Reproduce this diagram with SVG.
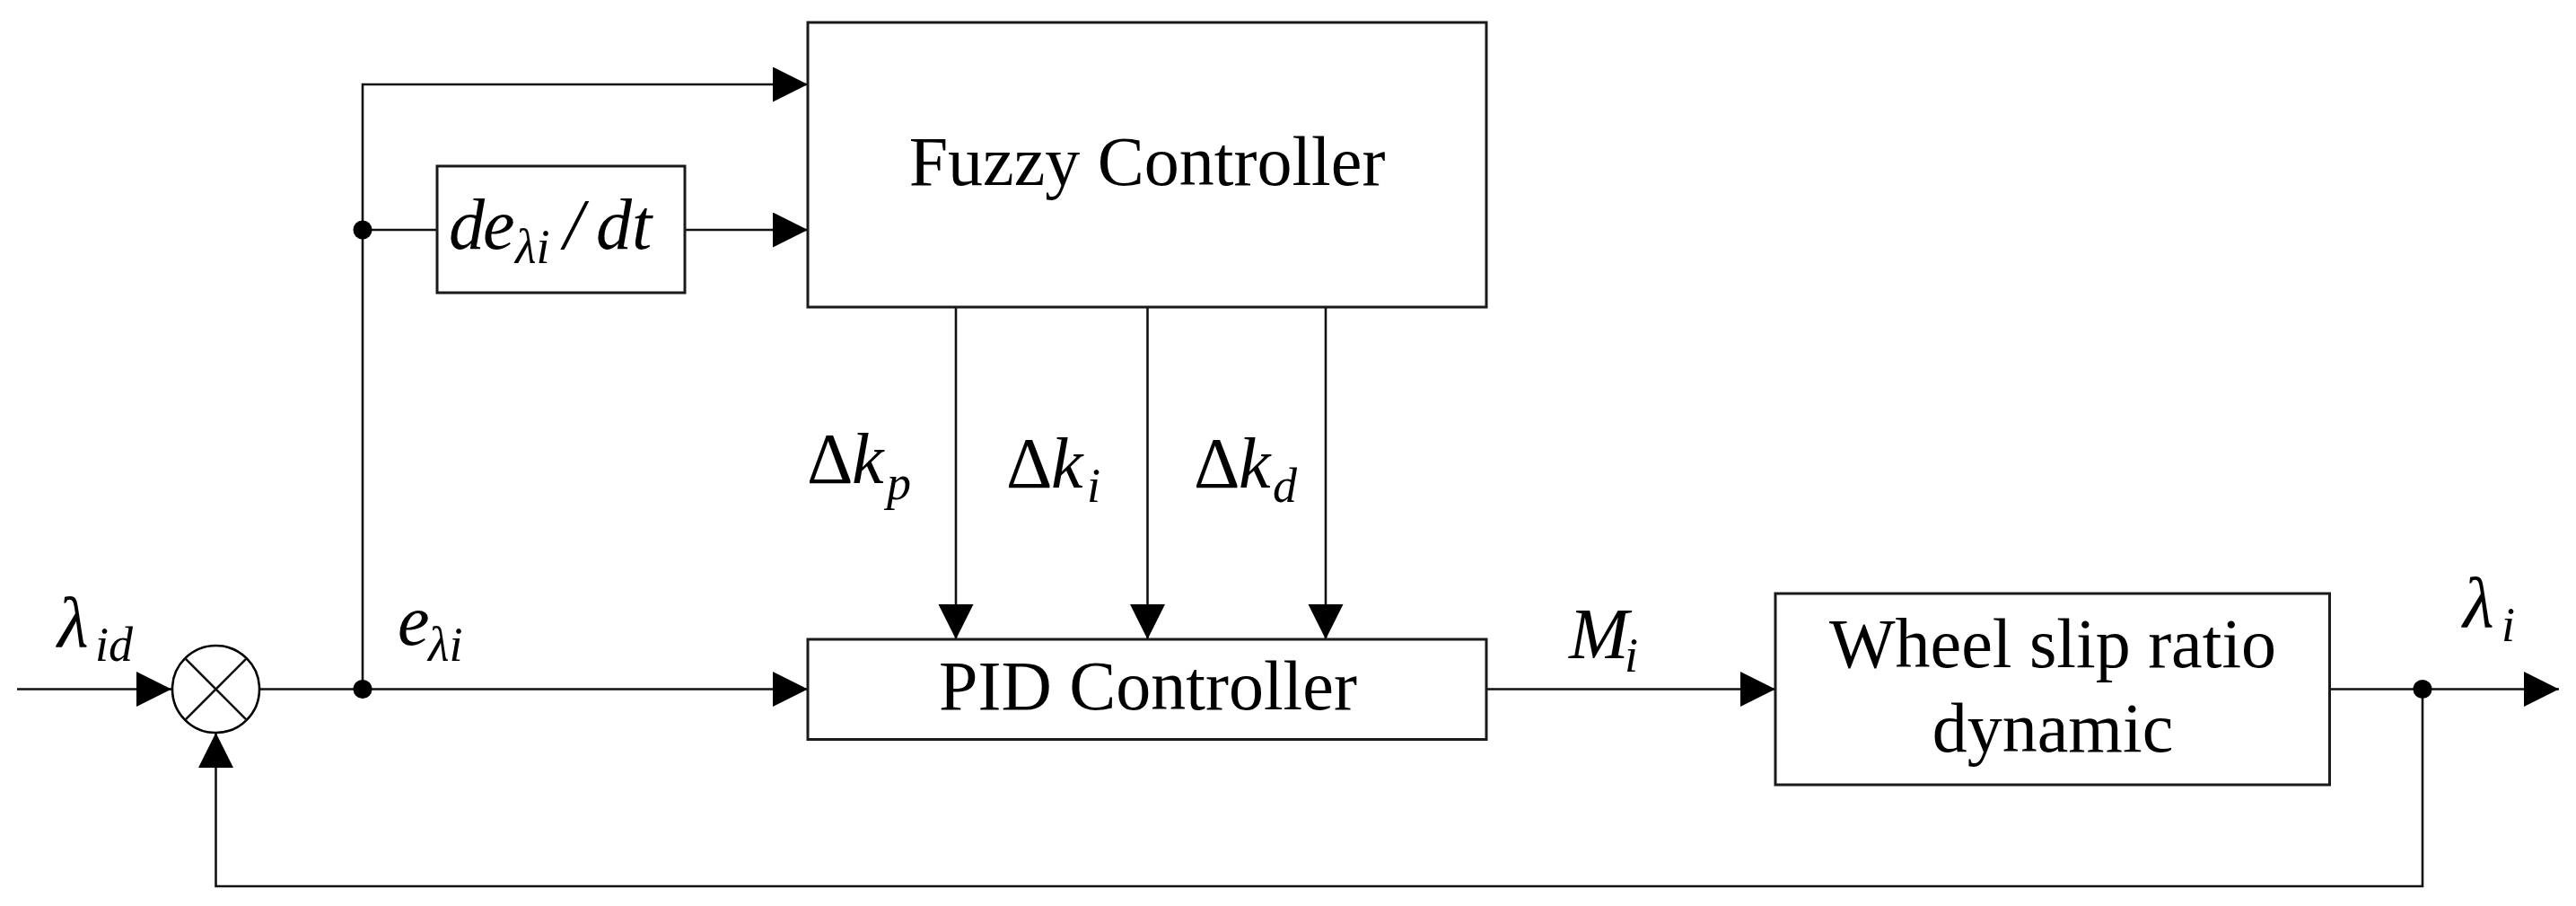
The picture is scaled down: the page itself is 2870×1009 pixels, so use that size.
<svg xmlns="http://www.w3.org/2000/svg" width="2870" height="1009" viewBox="0 0 2870 1009">
<style>
.box{fill:#fff;stroke:#1a1a1a;stroke-width:3}
.ln{fill:none;stroke:#111;stroke-width:2.6}
.lbl{font-family:"Liberation Serif","Times New Roman",serif;font-size:78px;fill:#000;text-anchor:middle}
.m{font-family:"Liberation Serif","Times New Roman",serif;font-style:italic;font-size:80px;fill:#000}
.up{font-style:normal}
.sub{font-size:54px}
.dot{fill:#000}
</style>
<defs>
<marker id="arr" markerUnits="userSpaceOnUse" markerWidth="40" markerHeight="40" refX="39" refY="19.5" orient="auto" viewBox="0 0 40 40">
<path d="M0,0 L39,19.5 L0,39 Z" fill="#000"/>
</marker>
</defs>
<rect width="2870" height="1009" fill="#fff"/>
<g id="connectors">
<path class="ln" d="M19,767.5 H191" marker-end="url(#arr)"/>
<path class="ln" d="M289,767.5 H900" marker-end="url(#arr)"/>
<path class="ln" d="M404,767.5 V94 H900" marker-end="url(#arr)"/>
<path class="ln" d="M404,256 H487"/>
<path class="ln" d="M763,256 H900" marker-end="url(#arr)"/>
<path class="ln" d="M1065,342 V712" marker-end="url(#arr)"/>
<path class="ln" d="M1278.5,342 V712" marker-end="url(#arr)"/>
<path class="ln" d="M1477,342 V712" marker-end="url(#arr)"/>
<path class="ln" d="M1656,767.5 H1978" marker-end="url(#arr)"/>
<path class="ln" d="M2595.5,767.5 H2851" marker-end="url(#arr)"/>
<path class="ln" d="M2699,767.5 V987 H240.5 V816" marker-end="url(#arr)"/>
<circle class="dot" cx="404" cy="256" r="10.5"/>
<circle class="dot" cx="404" cy="767.5" r="10.5"/>
<circle class="dot" cx="2699" cy="767.5" r="10.5"/>
</g>
<g id="sum">
<circle cx="240.5" cy="767.5" r="48.5" fill="#fff" stroke="#000" stroke-width="2.6"/>
<path class="ln" d="M206.2,733.2 L274.8,801.8 M274.8,733.2 L206.2,801.8"/>
</g>
<g id="fuzzy">
<rect class="box" x="900" y="25" width="756" height="317"/>
<text class="lbl" x="1278" y="206">Fuzzy Controller</text>
</g>
<g id="deriv">
<rect class="box" x="487" y="185" width="276" height="141"/>
<text class="m" y="277"><tspan x="500">d</tspan><tspan x="538">e</tspan><tspan class="sub" x="574" y="293">λi</tspan><tspan x="628" y="277">/</tspan><tspan x="664">dt</tspan></text>
</g>
<g id="pid">
<rect class="box" x="900" y="712" width="756" height="111.5"/>
<text class="lbl" x="1279" y="790">PID Controller</text>
</g>
<g id="wheel">
<rect class="box" x="1978" y="661" width="617.5" height="213"/>
<text class="lbl" x="2287" y="743">Wheel slip ratio</text>
<text class="lbl" x="2287" y="837">dynamic</text>
</g>
<g id="labels">
<text class="m" x="64" y="720">λ<tspan class="sub" x="106" y="736">id</tspan></text>
<text class="m" x="443" y="718">e<tspan class="sub" x="477" y="736">λi</tspan></text>
<text class="m" y="538"><tspan class="up" x="899">Δ</tspan><tspan x="949">k</tspan><tspan class="sub" x="988" y="556">p</tspan></text>
<text class="m" y="543"><tspan class="up" x="1121">Δ</tspan><tspan x="1171">k</tspan><tspan class="sub" x="1211" y="559">i</tspan></text>
<text class="m" y="543"><tspan class="up" x="1330">Δ</tspan><tspan x="1380">k</tspan><tspan class="sub" x="1418" y="559">d</tspan></text>
<text class="m" x="1748" y="733">M<tspan class="sub" x="1810" y="748">i</tspan></text>
<text class="m" x="2744" y="698">λ<tspan class="sub" x="2787" y="714">i</tspan></text>
</g>
</svg>
